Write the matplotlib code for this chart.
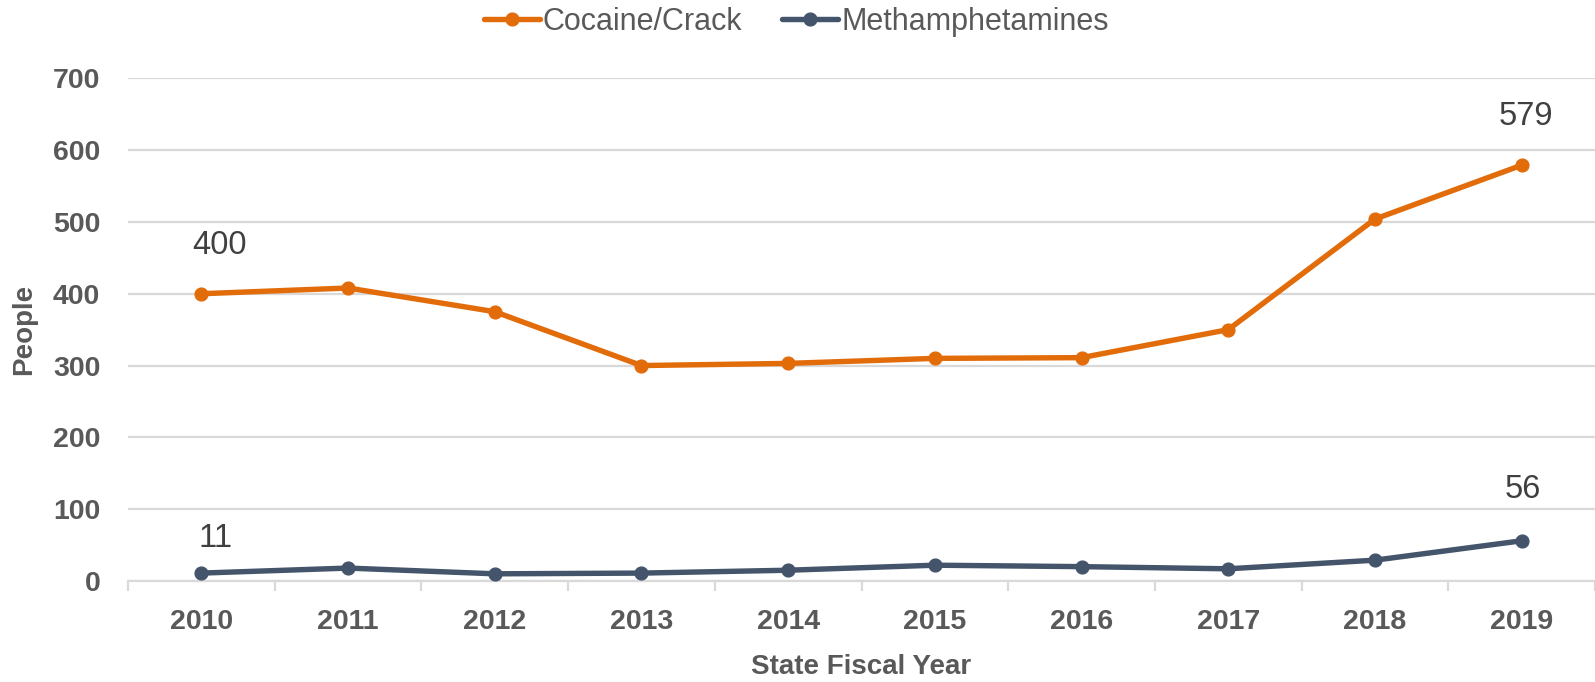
import matplotlib
matplotlib.use("Agg")
import matplotlib.pyplot as plt
from matplotlib.font_manager import FontProperties
import numpy as np

years = ["2010", "2011", "2012", "2013", "2014", "2015", "2016", "2017", "2018", "2019"]
cocaine = [400, 408, 375, 300, 303, 310, 311, 350, 504, 579]
meth = [11, 18, 10, 11, 15, 22, 20, 17, 29, 56]
series_names = ["Cocaine/Crack", "Methamphetamines"]
y_ticks = [0, 100, 200, 300, 400, 500, 600, 700]

ORANGE = "#E36C0A"
NAVY = "#44546A"
GRID = "#D9D9D9"
TXT = "#595959"

fig = plt.figure(figsize=(15.95, 6.82), dpi=100)
ax = fig.add_axes([128/1595, 1-581/682, 1-128/1595, (581-78.3)/682])

x = np.arange(len(years))
ax.plot(x, cocaine, color=ORANGE, lw=3.9, marker="o", ms=9.2, label=series_names[0],
        solid_capstyle="round", zorder=3, clip_on=False)
ax.plot(x, meth, color=NAVY, lw=3.9, marker="o", ms=9.2, label=series_names[1],
        solid_capstyle="round", zorder=3, clip_on=False)

ax.set_xlim(-0.5, len(years) - 0.5)
ax.set_ylim(0, 700)
ax.set_yticks(y_ticks)
ax.set_yticklabels([str(v) for v in y_ticks])
ax.set_xticks(x)
ax.set_xticklabels(years)
ax.set_xticks(np.arange(-0.5, len(years), 1.0), minor=True)

ax.grid(axis="y", color=GRID, lw=1.6)
ax.set_axisbelow(True)
for s in ["top", "right", "left"]:
    ax.spines[s].set_visible(False)
ax.spines["bottom"].set_color(GRID)
ax.spines["bottom"].set_linewidth(1.6)

ax.tick_params(axis="y", length=0, pad=20)
ax.tick_params(axis="x", which="major", length=0, pad=20)
ax.tick_params(axis="x", which="minor", length=7.5, width=1.6, color=GRID)
tick_fp = FontProperties(family="Liberation Sans", weight="bold", size=20.5)
for lab in ax.get_xticklabels() + ax.get_yticklabels():
    lab.set_fontproperties(tick_fp)
    lab.set_color(TXT)

bold = dict(family="Liberation Sans", weight="bold", size=20, color=TXT)
ax.set_xlabel("State Fiscal Year", fontdict=bold, labelpad=14)
ax.set_ylabel("People", fontdict=bold, labelpad=11)

ann = dict(family="Liberation Sans", size=23.5, color="#404040", ha="center", va="center")
# label offsets in pixels (dx, dy)
label_offsets = {("c", 0): (18, 48), ("m", 0): (14, 35), ("c", 9): (4, 49), ("m", 9): (1, 51)}
for i in [0, len(years) - 1]:
    for key, vals in (("c", cocaine), ("m", meth)):
        dx, dy = label_offsets[(key, i)]
        ax.annotate(str(vals[i]), (x[i], vals[i]), xytext=(dx * 0.72, dy * 0.72),
                    textcoords="offset points", **ann)

leg = fig.legend(loc="center left", bbox_to_anchor=(484/1595, 1-22/682), ncol=2, frameon=False,
                 prop=dict(family="Liberation Sans", size=22), handlelength=1.83,
                 handletextpad=0.1, columnspacing=1.3, borderpad=0, borderaxespad=0)
for t in leg.get_texts():
    t.set_color(TXT)

fig.savefig("out.png", dpi=100)
